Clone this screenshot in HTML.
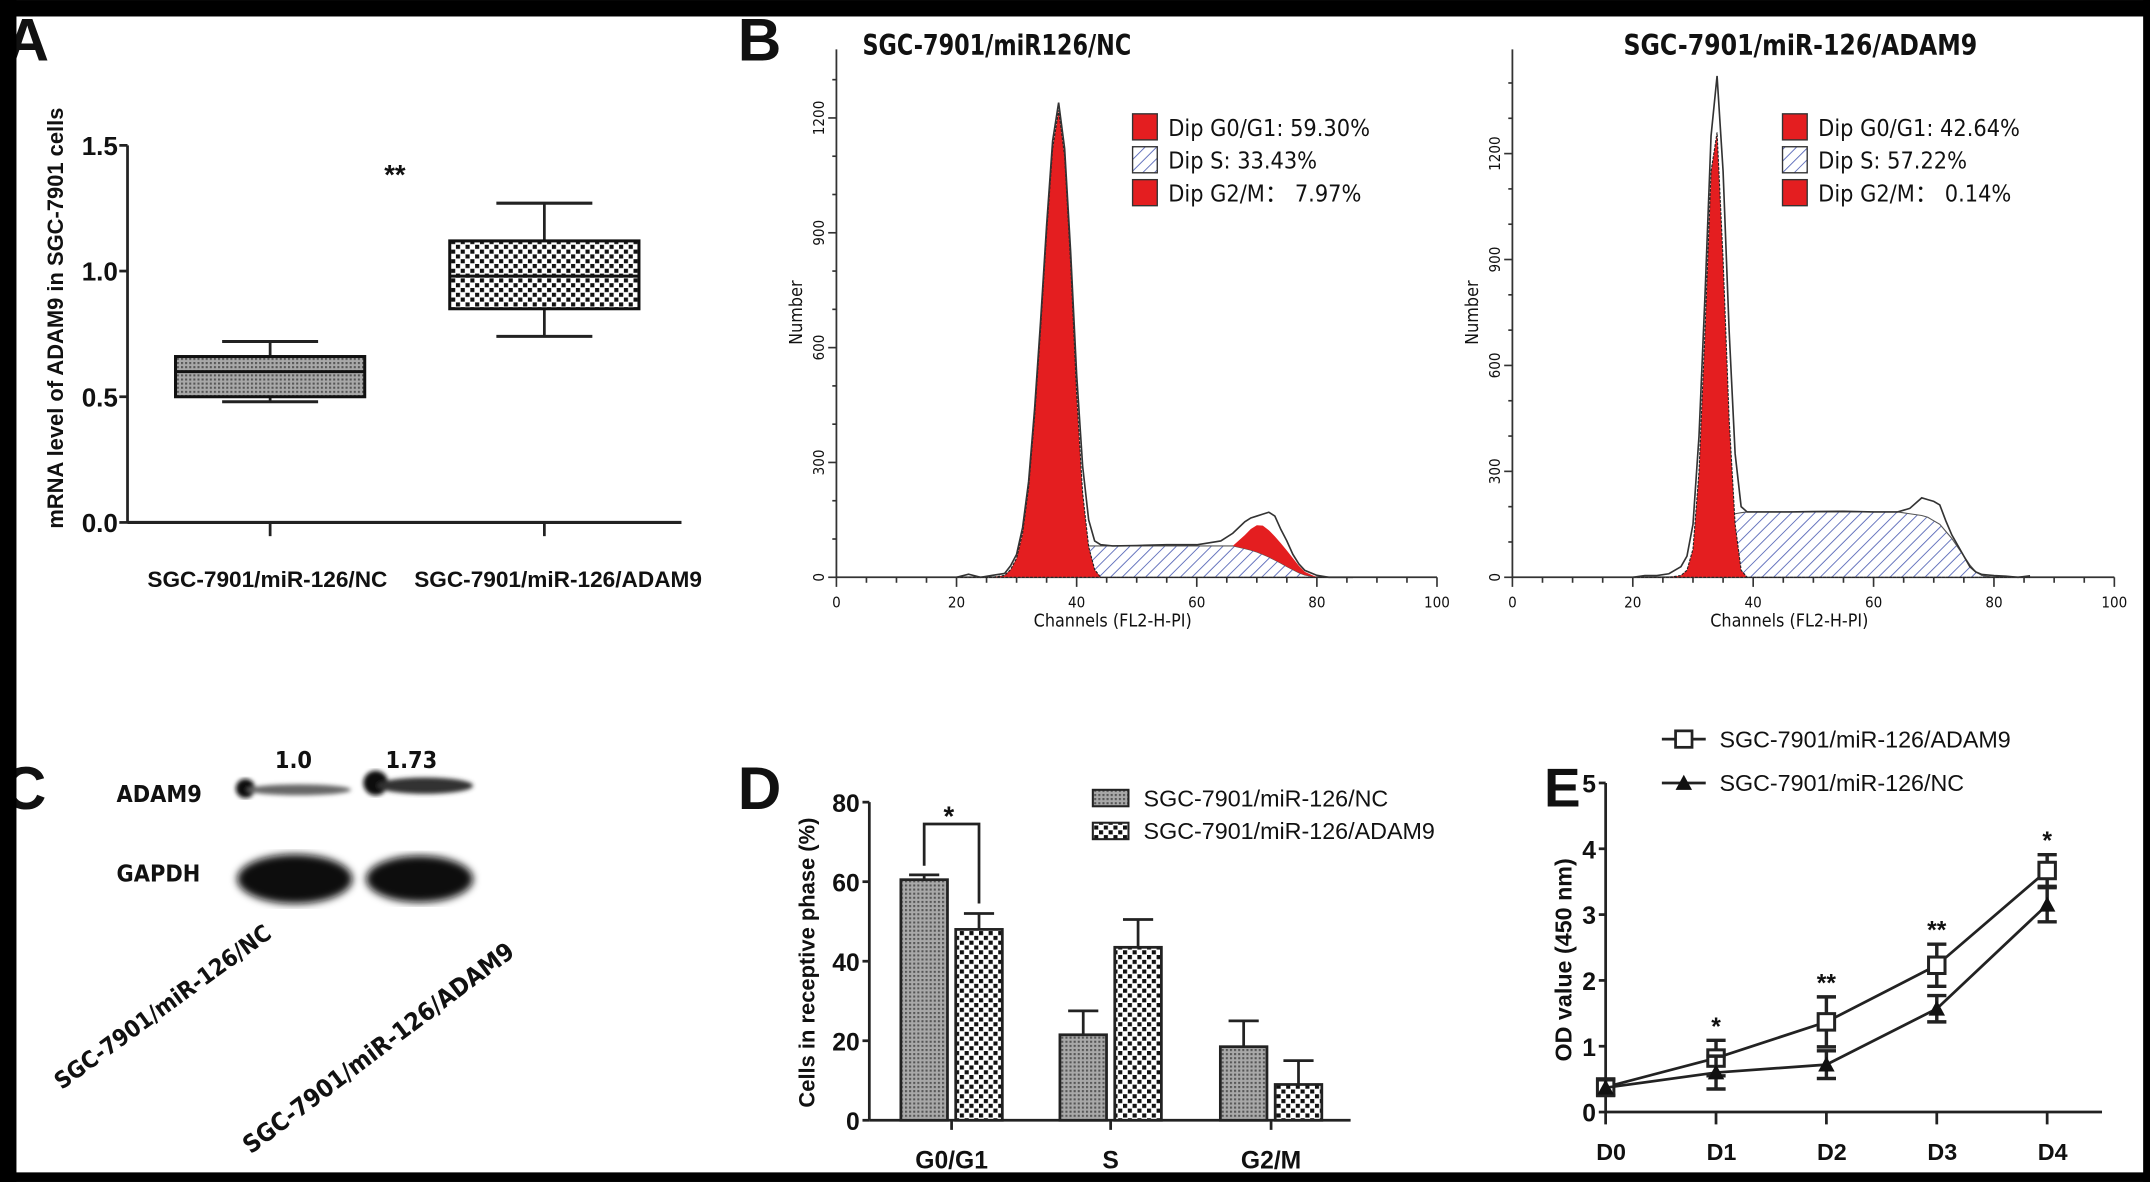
<!DOCTYPE html>
<html><head><meta charset="utf-8"><style>
html,body{margin:0;padding:0;background:#fff;}
svg{display:block;}
text{font-family:"Liberation Sans",Arial,sans-serif;fill:#111;}
.b{font-weight:bold;}
.cal{font-family:"DejaVu Sans Condensed","Liberation Sans Narrow","Liberation Sans",sans-serif;}
</style></head><body>
<svg id="fig" xmlns="http://www.w3.org/2000/svg" width="2150" height="1182" viewBox="0 0 1568 862">
<defs>
<pattern id="pFine" width="3" height="3" patternUnits="userSpaceOnUse"><rect width="3" height="3" fill="#a8a8a8"/><rect width="1.5" height="1.5" fill="#555"/></pattern>
<pattern id="pCheck" width="7" height="7" patternUnits="userSpaceOnUse"><rect width="7" height="7" fill="#fff"/><rect width="3" height="3" fill="#111"/><rect x="3.5" y="3.5" width="3" height="3" fill="#111"/></pattern>
<pattern id="pHatch" width="6" height="6" patternUnits="userSpaceOnUse" patternTransform="rotate(45)"><rect width="6" height="6" fill="#fff"/><line x1="0" y1="0" x2="0" y2="6" stroke="#5868b8" stroke-width="1.3"/></pattern>
<filter id="blur"><feGaussianBlur stdDeviation="3"/></filter>
<filter id="blur2"><feGaussianBlur stdDeviation="1.5"/></filter>
</defs>
<rect x="0" y="0" width="1568" height="862" fill="#fff"/>

<!-- Panel A static -->
<g id="panelA">
<text x="4" y="44" class="b" font-size="44">A</text>
<text class="b" font-size="16" transform="translate(46,232) rotate(-90)" text-anchor="middle">mRNA level of ADAM9 in SGC-7901 cells</text>
<text x="288" y="134" class="b" font-size="20" text-anchor="middle" fill="#333">**</text>
<text x="195" y="428" class="b" font-size="16.5" text-anchor="middle">SGC-7901/miR-126/NC</text>
<text x="407" y="428" class="b" font-size="16.5" text-anchor="middle">SGC-7901/miR-126/ADAM9</text>
</g>

<!-- Panel B static -->
<g id="panelB">
<text x="538" y="44" class="b" font-size="44">B</text>
<text x="727" y="40" class="cal b" font-size="21" text-anchor="middle" textLength="196" lengthAdjust="spacingAndGlyphs">SGC-7901/miR126/NC</text>
<text x="1313" y="40" class="cal b" font-size="21" text-anchor="middle" textLength="258" lengthAdjust="spacingAndGlyphs">SGC-7901/miR-126/ADAM9</text>
</g>

<!-- Panel C -->
<g id="panelC">
<text x="2" y="590" class="b" font-size="44">C</text>
<text x="214" y="560" class="cal b" font-size="17" text-anchor="middle">1.0</text>
<text x="300" y="560" class="cal b" font-size="17" text-anchor="middle">1.73</text>
<text x="85" y="585" class="cal b" font-size="17">ADAM9</text>
<text x="85" y="643" class="cal b" font-size="17">GAPDH</text>
<g filter="url(#blur2)">
<ellipse cx="179" cy="575" rx="7" ry="7" fill="#111"/>
<ellipse cx="218" cy="576" rx="38" ry="4" fill="#666"/>
</g>
<g filter="url(#blur2)">
<ellipse cx="274" cy="571" rx="9" ry="9" fill="#111"/>
<ellipse cx="310" cy="573" rx="35" ry="6" fill="#333"/>
</g>
<g filter="url(#blur)">
<ellipse cx="215" cy="641" rx="42" ry="18" fill="#0a0a0a"/>
</g>
<g filter="url(#blur)">
<ellipse cx="306" cy="641" rx="39" ry="17" fill="#0a0a0a"/>
</g>
<text class="cal b" font-size="17" transform="translate(45,795) rotate(-36)">SGC-7901/miR-126/NC</text>
<text class="cal b" font-size="18" transform="translate(183,842) rotate(-37)">SGC-7901/miR-126/ADAM9</text>
</g>

<!-- Panel D static -->
<g id="panelD">
<text x="538" y="590" class="b" font-size="44">D</text>
<text class="b" font-size="16" transform="translate(594,702) rotate(-90)" text-anchor="middle">Cells in receptive phase (%)</text>
</g>

<!-- Panel E static -->
<g id="panelE">
<text x="1126" y="588" class="b" font-size="40">E</text>
<text class="b" font-size="17" transform="translate(1146,700) rotate(-90)" text-anchor="middle">OD value (450 nm)</text>
</g>

<g id="dyn"></g>

<!-- black frame -->
<rect x="0" y="0" width="1568" height="12" fill="#000"/>
<rect x="0" y="0" width="12" height="862" fill="#000"/>
<rect x="0" y="855" width="1568" height="7" fill="#000"/>
<rect x="1563" y="0" width="5" height="862" fill="#000"/>
</svg>

<script>
// ---------- Panel A data ----------
const aGroups = ['SGC-7901/miR-126/NC', 'SGC-7901/miR-126/ADAM9'];
const aWhiskerLow = [0.48, 0.74];
const aQ1 = [0.50, 0.85];
const aMedian = [0.60, 0.98];
const aQ3 = [0.66, 1.12];
const aWhiskerHigh = [0.72, 1.27];
const aTicks = [0, 0.5, 1.0, 1.5];
const aTickLabels = ['0.0', '0.5', '1.0', '1.5'];

// ---------- Panel B data ----------
const bChannels = [20,22,24,26,28,29,30,31,32,33,34,35,36,37,38,39,40,41,42,43,44,46,50,55,60,64,66,68,69,70,71,72,73,74,75,76,77,78,80,82,84,86];
const bLeftTotal = [0,8,0,5,10,30,60,130,250,440,670,920,1140,1240,1120,850,530,290,150,95,85,82,83,85,85,95,115,145,155,160,165,170,160,125,95,60,35,18,5,0,0,0];
const bLeftG1 =    [0,0,0,0,5,20,50,115,235,420,650,900,1120,1220,1100,820,480,220,80,20,0,0,0,0,0,0,0,0,0,0,0,0,0,0,0,0,0,0,0,0,0,0];
const bLeftS =     [0,0,0,0,0,0,0,1,3,6,12,20,30,45,58,70,77,81,82,82,82,82,82,82,82,82,82,75,71,66,60,53,45,37,28,20,12,6,0,0,0,0];
const bLeftG2 =    [0,0,0,0,0,0,0,0,0,0,0,0,0,0,0,0,0,0,0,0,0,0,0,0,0,0,0,35,55,70,75,70,62,52,42,30,18,8,0,0,0,0];
const bRightTotal = [0,5,5,10,30,60,150,400,800,1250,1420,1150,700,350,200,185,185,185,185,185,185,185,186,187,185,185,195,225,220,215,205,160,120,90,60,30,15,8,5,3,0,4];
const bRightG1 =    [0,0,0,0,5,20,80,300,700,1150,1260,900,450,150,20,0,0,0,0,0,0,0,0,0,0,0,0,0,0,0,0,0,0,0,0,0,0,0,0,0,0,0];
const bRightS =     [0,0,0,0,0,3,10,30,70,110,140,160,172,180,183,185,185,185,185,185,185,185,185,185,185,185,180,175,170,160,150,130,110,85,60,35,15,5,0,0,0,0];
const bRightG2 =    [0,0,0,0,0,0,0,0,0,0,0,0,0,0,0,0,0,0,0,0,0,0,0,0,0,0,0,0,0,0,0,0,0,0,0,0,0,0,0,0,0,0];
const bXTicks = [0,20,40,60,80,100];
const bYTicks = [0,300,600,900,1200];
const bLeftLegend = ['Dip G0/G1: 59.30%', 'Dip S: 33.43%', 'Dip G2/M\uFF1A 7.97%'];
const bRightLegend = ['Dip G0/G1: 42.64%', 'Dip S: 57.22%', 'Dip G2/M\uFF1A 0.14%'];

// ---------- Panel D data ----------
const dCategories = ['G0/G1', 'S', 'G2/M'];
const dNC = [60.5, 21.5, 18.5];
const dNCErr = [1.2, 6.0, 6.5];
const dADAM9 = [48, 43.5, 9];
const dADAM9Err = [4, 7, 6];
const dTicks = [0,20,40,60,80];
const dSeriesNames = ['SGC-7901/miR-126/NC', 'SGC-7901/miR-126/ADAM9'];

// ---------- Panel E data ----------
const eDays = ['D0','D1','D2','D3','D4'];
const eADAM9 = [0.38, 0.82, 1.37, 2.23, 3.67];
const eADAM9Err = [0.12, 0.27, 0.38, 0.32, 0.24];
const eNC = [0.37, 0.60, 0.72, 1.57, 3.15];
const eNCErr = [0.12, 0.25, 0.21, 0.20, 0.26];
const eSig = ['', '*', '**', '**', '*'];
const eTicks = [0,1,2,3,4,5];

const NS = 'http://www.w3.org/2000/svg';
const root = document.getElementById('dyn');
function el(tag, attrs, parent) {
  const e = document.createElementNS(NS, tag);
  for (const k in attrs) e.setAttribute(k, attrs[k]);
  (parent || root).appendChild(e);
  return e;
}
function txt(s, attrs) { const t = el('text', attrs); t.textContent = s; return t; }

// ===== Panel A =====
const aY = v => 381 - v * (275 / 1.5);
const aX = i => 197 + i * 200;
let e;
e = el('line', {x1:93, y1:aY(1.5), x2:93, y2:aY(0), stroke:'#222', 'stroke-width':2});


e = el('line', {x1:93, y1:aY(0), x2:497, y2:aY(0), stroke:'#222', 'stroke-width':2.2});


aTicks.forEach((v, i) => {
  const t = el('line', {x1:87, y1:aY(v), x2:93, y2:aY(v), stroke:'#222', 'stroke-width':2});
  
  
  const l = txt(aTickLabels[i], {x:86, y:aY(v) + 7, 'text-anchor':'end', 'font-size':19, 'font-weight':'bold', fill:'#333'});
  
  
});
aGroups.forEach((g, i) => {
  const cx = aX(i);
  const t = el('line', {x1:cx, y1:aY(0), x2:cx, y2:aY(0) + 10, stroke:'#222', 'stroke-width':2});
  
  
  const w = el('line', {x1:cx, y1:aY(aWhiskerHigh[i]), x2:cx, y2:aY(aWhiskerLow[i]), stroke:'#222', 'stroke-width':2});
  
  
  [aWhiskerHigh[i], aWhiskerLow[i]].forEach(v => {
    const c = el('line', {x1:cx - 35, y1:aY(v), x2:cx + 35, y2:aY(v), stroke:'#222', 'stroke-width':2.2});
    
    
  });
  const b = el('rect', {x:cx - 69, y:aY(aQ3[i]), width:138, height:aY(aQ1[i]) - aY(aQ3[i]), fill: i === 0 ? 'url(#pFine)' : 'url(#pCheck)', stroke:'#111', 'stroke-width':2.2});
  
  
  const m = el('line', {x1:cx - 69, y1:aY(aMedian[i]), x2:cx + 69, y2:aY(aMedian[i]), stroke:'#111', 'stroke-width':2.2});
  
  
});

// ===== Panel B =====
function histogram(opts) {
  const {x0, unitX, yScale, yTop, total, g1, s, g2, legend, legX, name, numX} = opts;
  const X = c => x0 + c * unitX;
  const Y = n => 421 - n * yScale;
  e = el('line', {x1:x0, y1:yTop, x2:x0, y2:421, stroke:'#333', 'stroke-width':1.3});
  
  
  e = el('line', {x1:x0, y1:421, x2:X(100), y2:421, stroke:'#333', 'stroke-width':1.3});
  
  
  for (let c = 0; c <= 100; c += 5) {
    const major = c % 20 === 0;
    const t = el('line', {x1:X(c), y1:421, x2:X(c), y2:421 + (major ? 7 : 4), stroke:'#333', 'stroke-width':1.2});
    
    
  }
  bXTicks.forEach(c => {
    const l = txt(String(c), {x:X(c), y:443, 'text-anchor':'middle', 'font-size':11, class:'cal', fill:'#444'});
    
    
  });
  for (let n = 0; Y(n) >= yTop; n += 100) {
    const major = n % 300 === 0;
    const t = el('line', {x1:x0 - (major ? 6 : 3), y1:Y(n), x2:x0, y2:Y(n), stroke:'#333', 'stroke-width':1.2});
    
    
  }
  bYTicks.forEach(n => {
    const l = txt(String(n), {'text-anchor':'middle', 'font-size':11, class:'cal', fill:'#444', transform:'translate(' + (x0 - 9) + ',' + Y(n) + ') rotate(-90)'});
    
    
  });
  const nl = txt('Number', {'text-anchor':'middle', 'font-size':13, class:'cal', fill:'#333', transform:'translate(' + numX + ',228) rotate(-90)'});
  
  
  const xl = txt('Channels (FL2-H-PI)', {x:X(46), y:457, 'text-anchor':'middle', 'font-size':13, class:'cal', fill:'#333'});
  
  
  let d = 'M' + X(bChannels[0]) + ',' + Y(0);
  bChannels.forEach((c, i) => { d += ' L' + X(c) + ',' + Y(s[i]); });
  d += ' L' + X(bChannels[bChannels.length - 1]) + ',' + Y(0) + ' Z';
  e = el('path', {d:d, fill:'url(#pHatch)', stroke:'#555', 'stroke-width':0.8});
  
  
  d = 'M' + X(bChannels[0]) + ',' + Y(0);
  bChannels.forEach((c, i) => { d += ' L' + X(c) + ',' + Y(g1[i]); });
  d += ' L' + X(bChannels[bChannels.length - 1]) + ',' + Y(0) + ' Z';
  e = el('path', {d:d, fill:'#e41e20', stroke:'#222', 'stroke-width':0.8, 'stroke-dasharray':'2,1'});
  
  
  if (g2.some(v => v > 0)) {
    d = '';
    bChannels.forEach((c, i) => { d += (i ? ' L' : 'M') + X(c) + ',' + Y(s[i] + g2[i]); });
    for (let i = bChannels.length - 1; i >= 0; i--) d += ' L' + X(bChannels[i]) + ',' + Y(s[i]);
    d += ' Z';
    e = el('path', {d:d, fill:'#e41e20', stroke:'none'});
    
    
  }
  d = '';
  bChannels.forEach((c, i) => { d += (i ? ' L' : 'M') + X(c) + ',' + Y(total[i]); });
  e = el('path', {d:d, fill:'none', stroke:'#333', 'stroke-width':1.2});
  
  
  const ys = [92, 116, 140];
  legend.forEach((lab, i) => {
    const sw = el('rect', {x:legX, y:ys[i] - 9, width:18, height:19, fill: i === 1 ? 'url(#pHatch)' : '#e41e20', stroke:'#333', 'stroke-width':1});
    
    
    const t = txt(lab, {x:legX + 26, y:ys[i] + 7, 'font-size':17, class:'cal', fill:'#333'});
    
    
  });
}
histogram({x0:610, unitX:4.38, yScale:335/1200, yTop:36, total:bLeftTotal, g1:bLeftG1, s:bLeftS, g2:bLeftG2, legend:bLeftLegend, legX:826, name:'hist-nc', numX:585});
histogram({x0:1103, unitX:4.39, yScale:309/1200, yTop:36, total:bRightTotal, g1:bRightG1, s:bRightS, g2:bRightG2, legend:bRightLegend, legX:1300, name:'hist-adam9', numX:1078});

// ===== Panel D =====
const dY = v => 817 - v * 2.9;
const dCenters = [694, 810, 927];
e = el('line', {x1:634, y1:dY(80), x2:634, y2:dY(0), stroke:'#222', 'stroke-width':2});


e = el('line', {x1:634, y1:dY(0), x2:985, y2:dY(0), stroke:'#222', 'stroke-width':2});


dTicks.forEach(v => {
  const t = el('line', {x1:629, y1:dY(v), x2:634, y2:dY(v), stroke:'#222', 'stroke-width':2});
  
  
  const l = txt(String(v), {x:627, y:dY(v) + 7, 'text-anchor':'end', 'font-size':18, 'font-weight':'bold', fill:'#333'});
  
  
});
dCategories.forEach((c, i) => {
  const cx = dCenters[i];
  const t = el('line', {x1:cx, y1:dY(0), x2:cx, y2:dY(0) + 7, stroke:'#222', 'stroke-width':2});
  
  
  const l = txt(c, {x:cx, y:852, 'text-anchor':'middle', 'font-size':18, 'font-weight':'bold'});
  
  
  [[dNC, dNCErr, -37, 'url(#pFine)', 'bar-nc'], [dADAM9, dADAM9Err, 3, 'url(#pCheck)', 'bar-adam9']].forEach(([vals, errs, off, fill, nm]) => {
    const bx = cx + off;
    const er = el('line', {x1:bx + 17, y1:dY(vals[i]), x2:bx + 17, y2:dY(vals[i] + errs[i]), stroke:'#222', 'stroke-width':2});
    
    
    const cap = el('line', {x1:bx + 6, y1:dY(vals[i] + errs[i]), x2:bx + 28, y2:dY(vals[i] + errs[i]), stroke:'#222', 'stroke-width':2});
    
    
    const r = el('rect', {x:bx, y:dY(vals[i]), width:34, height:dY(0) - dY(vals[i]), fill:fill, stroke:'#222', 'stroke-width':2});
    
    
  });
});
{
  const x1 = dCenters[0] - 20, x2 = dCenters[0] + 20;
  const br = el('path', {d:'M' + x1 + ',' + dY(dNC[0] + 3.5) + ' L' + x1 + ',' + dY(74.5) + ' L' + x2 + ',' + dY(74.5) + ' L' + x2 + ',' + dY(dADAM9[0] + dADAM9Err[0] + 2.5), fill:'none', stroke:'#222', 'stroke-width':2});
  
  
  const st = txt('*', {x:dCenters[0] - 2, y:dY(75.5) + 4, 'text-anchor':'middle', 'font-size':20, 'font-weight':'bold', fill:'#333'});
  
  
}
dSeriesNames.forEach((n, i) => {
  const yy = i === 0 ? 582 : 606;
  const sw = el('rect', {x:797, y:yy - 6, width:26, height:12, fill: i === 0 ? 'url(#pFine)' : 'url(#pCheck)', stroke:'#222', 'stroke-width':1.5});
  
  
  const t = txt(n, {x:834, y:yy + 6, 'font-size':17, fill:'#333'});
  
  
});

// ===== Panel E =====
const eY = v => 811 - v * 48;
const eX = i => 1171 + i * 80.5;
e = el('line', {x1:1171, y1:eY(5), x2:1171, y2:eY(0), stroke:'#222', 'stroke-width':2});


e = el('line', {x1:1171, y1:eY(0), x2:1533, y2:eY(0), stroke:'#222', 'stroke-width':2});


eTicks.forEach(v => {
  const t = el('line', {x1:1166, y1:eY(v), x2:1171, y2:eY(v), stroke:'#222', 'stroke-width':2});
  
  
  const l = txt(String(v), {x:1164, y:eY(v) + 7, 'text-anchor':'end', 'font-size':18, 'font-weight':'bold', fill:'#333'});
  
  
});
eDays.forEach((d, i) => {
  const t = el('line', {x1:eX(i), y1:eY(0), x2:eX(i), y2:eY(0) + 9, stroke:'#222', 'stroke-width':2});
  
  
  const l = txt(d, {x:eX(i) + 4, y:846, 'text-anchor':'middle', 'font-size':17, 'font-weight':'bold', fill:'#333'});
  
  
});
[[eADAM9, eADAM9Err, 'line-adam9'], [eNC, eNCErr, 'line-nc']].forEach(([vals, errs, nm]) => {
  let d = '';
  vals.forEach((v, i) => { d += (i ? ' L' : 'M') + eX(i) + ',' + eY(v); });
  const p = el('path', {d:d, fill:'none', stroke:'#222', 'stroke-width':2});
  
  
  vals.forEach((v, i) => {
    const x = eX(i);
    const eb = el('path', {d:'M' + x + ',' + eY(v - errs[i]) + ' L' + x + ',' + eY(v + errs[i]) + ' M' + (x - 7) + ',' + eY(v - errs[i]) + ' L' + (x + 7) + ',' + eY(v - errs[i]) + ' M' + (x - 7) + ',' + eY(v + errs[i]) + ' L' + (x + 7) + ',' + eY(v + errs[i]), fill:'none', stroke:'#222', 'stroke-width':2.5});
    
    
    let mk;
    if (nm === 'line-adam9') {
      mk = el('rect', {x:x - 6, y:eY(v) - 6, width:12, height:12, fill:'#fff', stroke:'#222', 'stroke-width':2.2});
    } else {
      mk = el('path', {d:'M' + x + ',' + (eY(v) - 6) + ' L' + (x + 6) + ',' + (eY(v) + 5) + ' L' + (x - 6) + ',' + (eY(v) + 5) + ' Z', fill:'#111'});
    }
    
    
  });
});
eSig.forEach((s, i) => {
  if (!s) return;
  const top = Math.max(eADAM9[i] + eADAM9Err[i], eNC[i] + eNCErr[i]);
  const t = txt(s, {x:eX(i), y:eY(top) - 4, 'text-anchor':'middle', 'font-size':18, 'font-weight':'bold', fill:'#333'});
  
  
});
[['SGC-7901/miR-126/ADAM9', 539, 'sq'], ['SGC-7901/miR-126/NC', 571, 'tri']].forEach(([lab, yy, kind]) => {
  const ln = el('line', {x1:1212, y1:yy, x2:1244, y2:yy, stroke:'#222', 'stroke-width':2});
  
  
  let m;
  if (kind === 'sq') m = el('rect', {x:1222, y:yy - 6, width:12, height:12, fill:'#fff', stroke:'#222', 'stroke-width':2});
  else m = el('path', {d:'M1228,' + (yy - 6) + ' L1234,' + (yy + 5) + ' L1222,' + (yy + 5) + ' Z', fill:'#111'});
  
  
  const t = txt(lab, {x:1254, y:yy + 6, 'font-size':17, fill:'#333'});
  
  
});
</script>
</body></html>
